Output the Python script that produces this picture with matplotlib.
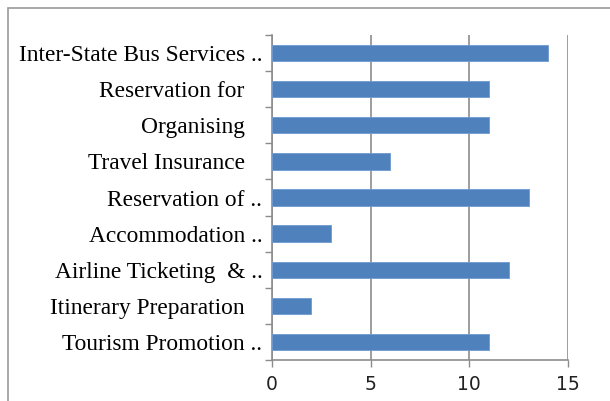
import matplotlib.pyplot as plt
from matplotlib.patches import Rectangle

# services offered, listed bottom to top as drawn on the y axis
services = [
    "Tourism Promotion ..",
    "Itinerary Preparation   ",
    "Airline Ticketing  & ..",
    "Accommodation ..",
    "Reservation of ..",
    "Travel Insurance   ",
    "Organising   ",
    "Reservation for   ",
    "Inter-State Bus Services ..",
]
counts = [11, 2, 12, 3, 13, 6, 11, 11, 14]
x_ticks = [0, 5, 10, 15]

grid_col = "#8c8c8c"

fig = plt.figure(figsize=(6.10, 4.01), dpi=100)
fig.patches.append(Rectangle((8 / 610, -0.1), 1.0, 1 - 8 / 401 + 0.1,
                             transform=fig.transFigure, fill=False,
                             edgecolor="#9a9a9a", linewidth=1.2))

ax = fig.add_axes([272 / 610, 1 - 360 / 401, (568 - 272) / 610, (360 - 35) / 401])
pos = range(len(services))
ax.barh(pos, counts, height=0.45, color="#4F81BD", edgecolor="#6f9ad0",
        linewidth=0.6, zorder=3)

ax.set_xlim(0, 15)
ax.set_ylim(-0.5, len(services) - 0.5)
ax.set_xticks(x_ticks)
ax.set_xticklabels([str(t) for t in x_ticks], fontsize=13.5, color="#222222")
ax.set_yticks(list(pos))
ax.set_yticklabels(services, family="Liberation Serif", fontsize=16.8)
ax.set_yticks([p - 0.5 for p in range(len(services) + 1)], minor=True)

ax.tick_params(axis="y", which="major", length=0, pad=7)
ax.tick_params(axis="y", which="minor", length=5, width=1, color=grid_col)
ax.tick_params(axis="x", length=5, width=1, color=grid_col, pad=6)

ax.xaxis.grid(True, color=grid_col, linewidth=1.2, zorder=0)
for side in ["top", "right"]:
    ax.spines[side].set_visible(False)
for side in ["left", "bottom"]:
    ax.spines[side].set_color(grid_col)
    ax.spines[side].set_linewidth(1.2)

fig.savefig("out.png", dpi=100)
